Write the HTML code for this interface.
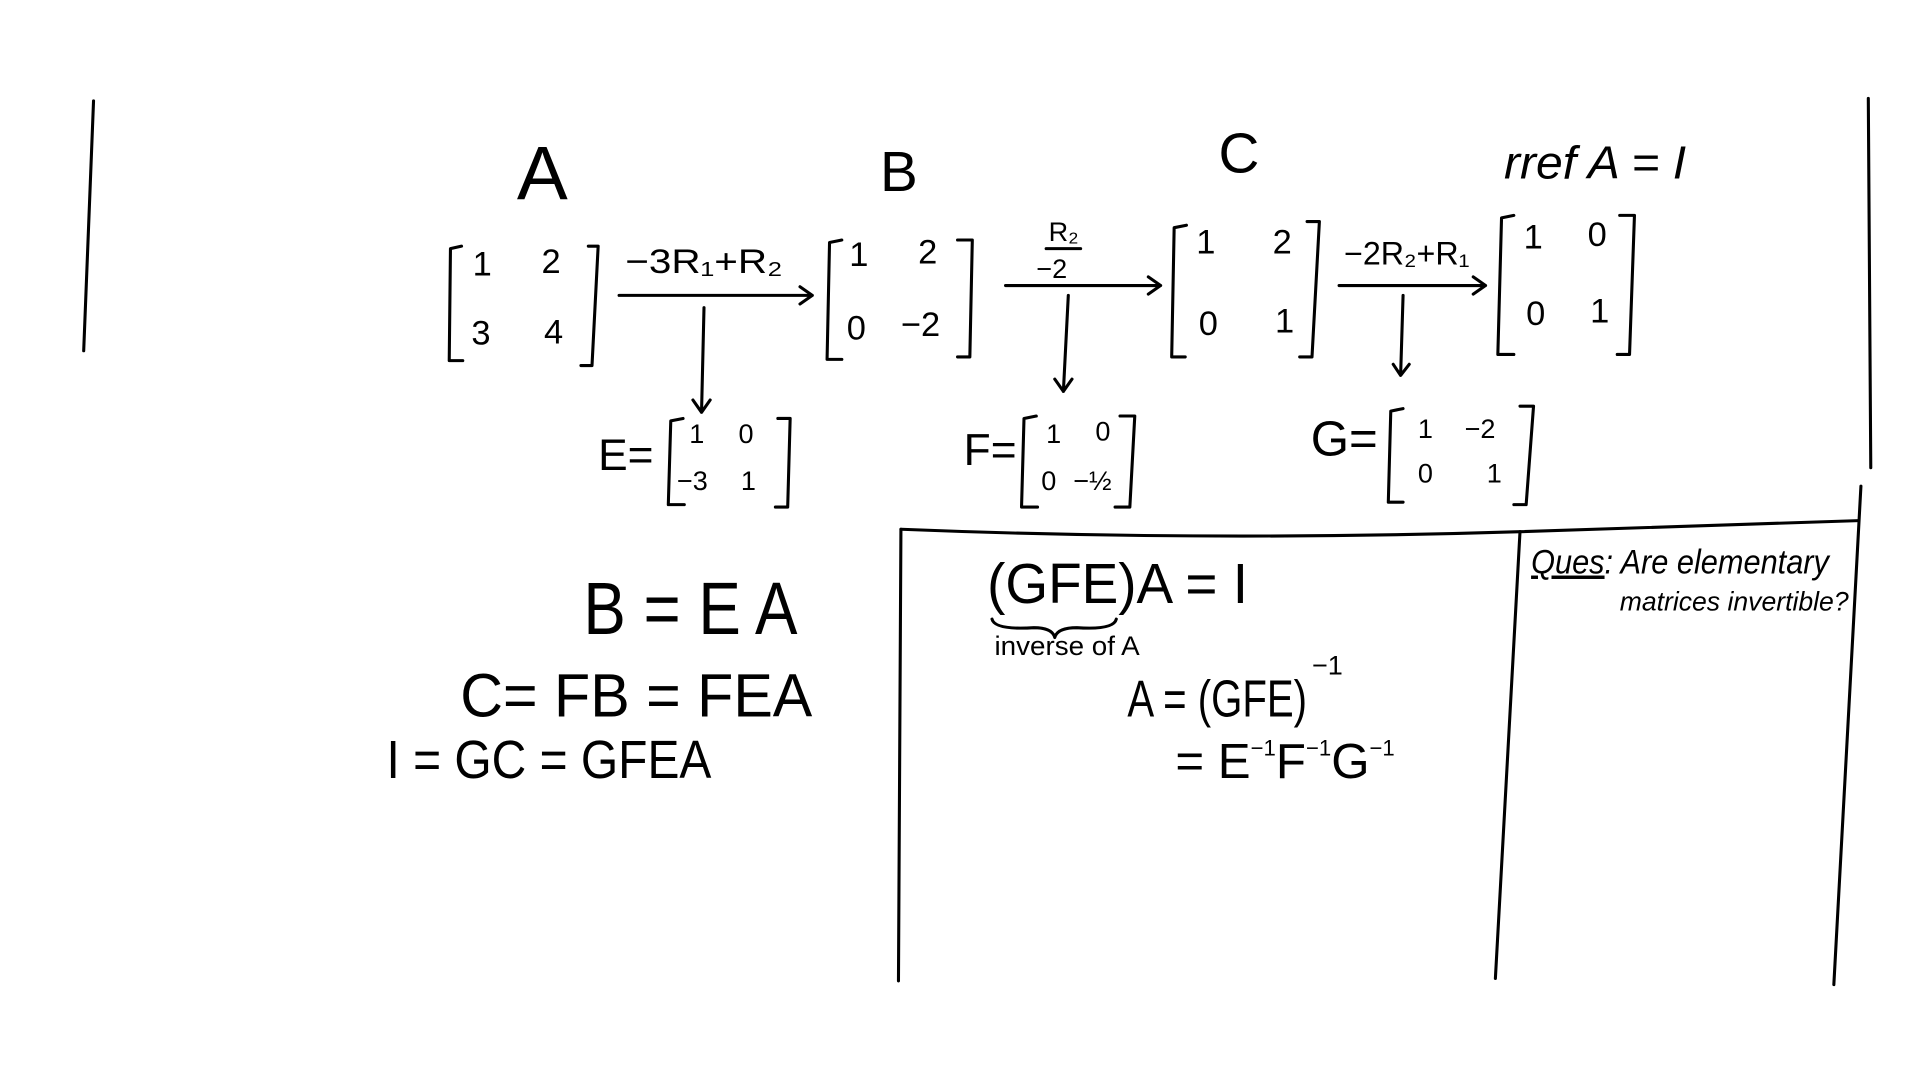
<!DOCTYPE html>
<html><head><meta charset="utf-8"><style>
html,body{margin:0;padding:0;background:#fff;width:1920px;height:1080px;overflow:hidden}
svg{display:block}
text{font-family:"Liberation Sans","DejaVu Sans",sans-serif;fill:#000}
.s{stroke:#000;stroke-width:2.5;fill:none;stroke-linecap:round;stroke-linejoin:round}
</style></head><body>
<svg width="1920" height="1080" viewBox="0 0 1560 877.5" preserveAspectRatio="none">
<rect width="1560" height="877.5" fill="#fff"/>
<g class="s">
<path d="M76 82 L68 285"/>
<path d="M1518 80 L1520 380"/>
<path d="M1512 395 L1490 800"/>
<path d="M732 430 Q980 440 1235 432 L1510 423"/>
<path d="M732 430 L730 797"/>
<path d="M1235 432 L1215 795"/>
</g>
<g>
<text x="420" y="162" font-size="62" font-weight="300">A</text>
<text x="715" y="155" font-size="46">B</text>
<text x="990" y="140" font-size="46">C</text>
<text x="1222" y="145" font-size="38" font-style="italic" textLength="148" lengthAdjust="spacingAndGlyphs">rref A = I</text>
</g>
<g class="s">
<path d="M375 200 L366 202 L365 293 L376 293"/><path d="M478 200 L486 200 L481 297 L472 297"/>
<path d="M684 195 L674 197 L672 292 L684 292"/><path d="M778 195 L790 195 L788 290 L778 290"/>
<path d="M964 183 L954 185 L952 290 L963 290"/><path d="M1062 180 L1072 180 L1066 290 L1056 290"/>
<path d="M1230 175 L1220 177 L1217 288 L1230 288"/><path d="M1316 175 L1328 175 L1324 288 L1314 288"/>
<path d="M555 340 L545 342 L543 410 L556 410"/><path d="M632 340 L642 340 L640 412 L630 412"/>
<path d="M842 338 L832 340 L830 412 L843 412"/><path d="M910 338 L922 338 L918 412 L906 412"/>
<path d="M1140 332 L1130 334 L1128 408 L1140 408"/><path d="M1235 330 L1246 330 L1240 410 L1230 410"/>
</g>
<g font-size="28">
<text x="384" y="224">1</text><text x="440" y="222">2</text><text x="383" y="280">3</text><text x="442" y="279">4</text>
<text x="690" y="216">1</text><text x="746" y="214">2</text><text x="688" y="276">0</text><text x="732" y="273">−2</text>
<text x="972" y="206">1</text><text x="1034" y="206">2</text><text x="974" y="272">0</text><text x="1036" y="270">1</text>
<text x="1238" y="202">1</text><text x="1290" y="200">0</text><text x="1240" y="264">0</text><text x="1292" y="262">1</text>
<g font-size="22">
<text x="560" y="360">1</text><text x="600" y="360">0</text><text x="550" y="398">−3</text><text x="602" y="398">1</text>
<text x="850" y="360">1</text><text x="890" y="358">0</text><text x="846" y="398">0</text><text x="872" y="398">−½</text>
<text x="1152" y="356">1</text><text x="1190" y="356">−2</text><text x="1152" y="392">0</text><text x="1208" y="392">1</text>
</g>
</g>
<g class="s">
<path d="M503 240 L660 240 M650 233 L660 240 L650 247"/>
<path d="M572 250 L570 335 M563 325 L570 335 L577 325"/>
<path d="M817 232 L943 232 M933 225 L943 232 L933 239"/>
<path d="M868 240 L864 318 M857 308 L864 318 L871 308"/>
<path d="M1088 232 L1207 232 M1197 225 L1207 232 L1197 239"/>
<path d="M1140 240 L1138 305 M1132 296 L1138 305 L1145 296"/>
<path d="M850 202 L878 202"/>
</g>
<g>
<text x="508" y="222" font-size="28" textLength="128" lengthAdjust="spacingAndGlyphs">−3R₁+R₂</text>
<text x="852" y="196" font-size="22">R₂</text>
<text x="842" y="226" font-size="22">−2</text>
<text x="1092" y="215" font-size="26" textLength="102" lengthAdjust="spacingAndGlyphs">−2R₂+R₁</text>
</g>
<g>
<text x="486" y="382" font-size="36">E=</text>
<text x="783" y="378" font-size="36">F=</text>
<text x="1065" y="370" font-size="40">G=</text>
</g>
<g>
<text x="474" y="515" font-size="60" textLength="174" lengthAdjust="spacingAndGlyphs">B = E A</text>
<text x="374" y="582" font-size="50" textLength="286" lengthAdjust="spacingAndGlyphs">C= FB = FEA</text>
<text x="314" y="632" font-size="44" textLength="264" lengthAdjust="spacingAndGlyphs">I = GC = GFEA</text>
</g>
<g>
<text x="802" y="490" font-size="46" textLength="212" lengthAdjust="spacingAndGlyphs">(GFE)A = I</text>
<path class="s" d="M806 503 Q808 512 840 510 Q855 510 857 518 Q859 510 875 510 Q905 512 907 503"/>
<text x="808" y="532" font-size="22" textLength="118" lengthAdjust="spacingAndGlyphs">inverse of A</text>
<text x="916" y="582" font-size="42" textLength="146" lengthAdjust="spacingAndGlyphs">A = (GFE)</text>
<text x="1066" y="548" font-size="22">−1</text>
<text x="955" y="632" font-size="40">= E<tspan font-size="18" dy="-18">−1</tspan><tspan dy="18">F</tspan><tspan font-size="18" dy="-18">−1</tspan><tspan dy="18">G</tspan><tspan font-size="18" dy="-18">−1</tspan></text>
</g>
<g>
<text x="1244" y="466" font-size="28" font-style="italic" textLength="242" lengthAdjust="spacingAndGlyphs"><tspan text-decoration="underline">Ques</tspan>: Are elementary</text>
<text x="1316" y="496" font-size="22" font-style="italic" textLength="186" lengthAdjust="spacingAndGlyphs">matrices invertible?</text>
</g>
</svg>
</body></html>
